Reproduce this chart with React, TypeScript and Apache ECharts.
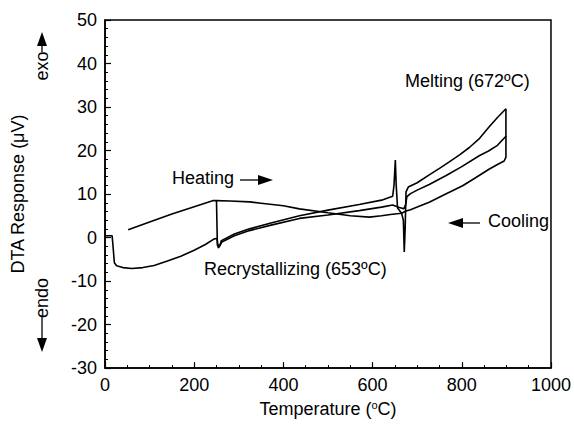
import React, { useEffect, useRef } from "react";
import * as echarts from "echarts";

const xTicks = [0, 200, 400, 600, 800, 1000];
const yTicks = [-30, -20, -10, 0, 10, 20, 30, 40, 50];

// [temperature °C, DTA response µV]
const heating1: [number, number][] = [
  [0, 0.4], [16, 0.4], [18, -2], [21, -5.8], [26, -6.5], [40, -6.9], [60, -7.1], [85, -6.9],
  [110, -6.4], [140, -5.4], [170, -4.3], [200, -2.9], [225, -1.6], [245, -0.3], [251, -0.2],
  [254, -2.4], [257, -2.0], [261, -0.7], [290, 0.8], [324, 2.0], [370, 3.3], [436, 5.0],
  [500, 6.3], [570, 7.6], [620, 8.6], [645, 9.5], [648, 12], [651, 17.8], [653, 12], [656, 6.8],
  [665, 5.6], [669, 4], [671, -3.3], [673, 2], [675, 10.5], [680, 11.6], [700, 12.6],
  [727, 14.4], [750, 15.9], [772, 17.4], [795, 19], [817, 20.7], [840, 22.8], [861, 25.4],
  [880, 27.6], [899, 29.6],
];

const cooling1: [number, number][] = [
  [899, 29.6], [899, 23.3], [880, 21.2], [860, 19.9], [839, 18.8], [800, 16.3], [764, 14.2],
  [727, 12.2], [700, 10.9], [685, 10.1], [677, 9.4], [674, 7.5], [670, 6.6], [660, 6.9],
  [645, 7.5], [620, 7.0], [570, 6.2], [500, 5.2], [436, 4.4], [370, 2.8], [324, 1.6],
  [290, 0.4], [262, -1.0], [258, -1.8], [252, -1.8], [250, 8.4],
];

const cooling2: [number, number][] = [
  [899, 23.3], [899, 18.5], [895, 17.6], [880, 16.8], [861, 15.7], [830, 13.7], [802, 11.9],
  [764, 10.0], [727, 8.1], [700, 7.0], [685, 6.4], [675, 6.1], [665, 5.6], [640, 5.3],
  [620, 5.0], [593, 4.7], [550, 5.0], [500, 5.7], [436, 6.6], [400, 7.3], [350, 7.9],
  [324, 8.2], [280, 8.4], [250, 8.5], [243, 8.5], [200, 7.1], [150, 5.4], [100, 3.6], [52, 1.8],
];

const FONT = "Liberation Sans, Arial, sans-serif";

export default function App() {
  const ref = useRef<HTMLDivElement>(null);
  useEffect(() => {
    if (!ref.current) return;
    const chart = echarts.init(ref.current, undefined, { renderer: "svg" });
    const lineSeries = (name: string, data: [number, number][]) => ({
      name,
      type: "line",
      data,
      showSymbol: false,
      symbol: "none",
      lineStyle: { color: "#000", width: 1.6 },
      clip: true,
    });
    const txt = { fill: "#000", fontSize: 18, fontFamily: FONT };
    chart.setOption({
      animation: false,
      backgroundColor: "#fff",
      textStyle: { fontFamily: FONT },
      grid: {
        left: 105, right: 22, top: 20, bottom: 54,
        show: true, borderColor: "#000", borderWidth: 1.5, backgroundColor: "transparent",
      },
      xAxis: {
        type: "value",
        min: xTicks[0], max: xTicks[xTicks.length - 1], interval: 200,
        name: "Temperature ({s|o}C)",
        nameLocation: "middle",
        nameGap: 30,
        nameTextStyle: {
          color: "#000", fontSize: 18, fontFamily: FONT, lineHeight: 20,
          rich: { s: { fontSize: 11, verticalAlign: "top", lineHeight: 20, color: "#000", fontFamily: FONT } },
        },
        axisLine: { onZero: false, lineStyle: { color: "#000", width: 1.5 } },
        axisTick: { inside: true, length: 6, lineStyle: { color: "#000", width: 1.2 } },
        minorTick: { show: true, splitNumber: 4, length: 3, lineStyle: { color: "#000", width: 1 } },
        axisLabel: { color: "#000", fontSize: 18, fontFamily: FONT, margin: 8, formatter: (v: number) => String(v) },
        splitLine: { show: false },
      },
      yAxis: {
        type: "value",
        min: yTicks[0], max: yTicks[yTicks.length - 1], interval: 10,
        name: "DTA Response (μV)",
        nameLocation: "middle",
        nameGap: 78,
        nameTextStyle: { color: "#000", fontSize: 18, fontFamily: FONT },
        axisLine: { onZero: false, lineStyle: { color: "#000", width: 1.5 } },
        axisTick: { inside: true, length: 6, lineStyle: { color: "#000", width: 1.2 } },
        minorTick: { show: true, splitNumber: 5, length: 3, lineStyle: { color: "#000", width: 1 } },
        axisLabel: { color: "#000", fontSize: 18, fontFamily: FONT, margin: 8, formatter: (v: number) => String(v) },
        splitLine: { show: false },
      },
      series: [
        lineSeries("heating1", heating1),
        lineSeries("cooling1", cooling1),
        lineSeries("cooling2", cooling2),
      ],
      graphic: [
        { type: "text", left: 172, top: 169, style: { ...txt, text: "Heating" } },
        { type: "line", shape: { x1: 240, y1: 180, x2: 260, y2: 180 }, style: { stroke: "#000", lineWidth: 1.3 } },
        { type: "polygon", shape: { points: [[258, 175], [273, 180], [258, 185]] }, style: { fill: "#000" } },
        { type: "text", left: 488, top: 212, style: { ...txt, text: "Cooling" } },
        { type: "line", shape: { x1: 460, y1: 223, x2: 480, y2: 223 }, style: { stroke: "#000", lineWidth: 1.3 } },
        { type: "polygon", shape: { points: [[448, 223], [463, 218], [463, 228]] }, style: { fill: "#000" } },
        { type: "text", left: 405, top: 72, style: { ...txt, text: "Melting (672ºC)" } },
        { type: "text", left: 204, top: 260, style: { ...txt, text: "Recrystallizing (653ºC)" } },
        // exo arrow
        { type: "polygon", shape: { points: [[42, 32], [37, 46], [47, 46]] }, style: { fill: "#000" } },
        { type: "line", shape: { x1: 42, y1: 45, x2: 42, y2: 52 }, style: { stroke: "#000", lineWidth: 1.3 } },
        { type: "text", x: 42, y: 66, rotation: Math.PI / 2, style: { ...txt, text: "exo", align: "center", verticalAlign: "middle" } },
        // endo arrow
        { type: "text", x: 42, y: 298, rotation: Math.PI / 2, style: { ...txt, text: "endo", align: "center", verticalAlign: "middle" } },
        { type: "line", shape: { x1: 42, y1: 316, x2: 42, y2: 340 }, style: { stroke: "#000", lineWidth: 1.3 } },
        { type: "polygon", shape: { points: [[37, 338], [47, 338], [42, 352]] }, style: { fill: "#000" } },
      ],
    });
    return () => chart.dispose();
  }, []);
  return <div ref={ref} style={{ position: "fixed", left: 0, top: 0, width: 574, height: 424 }} />;
}
